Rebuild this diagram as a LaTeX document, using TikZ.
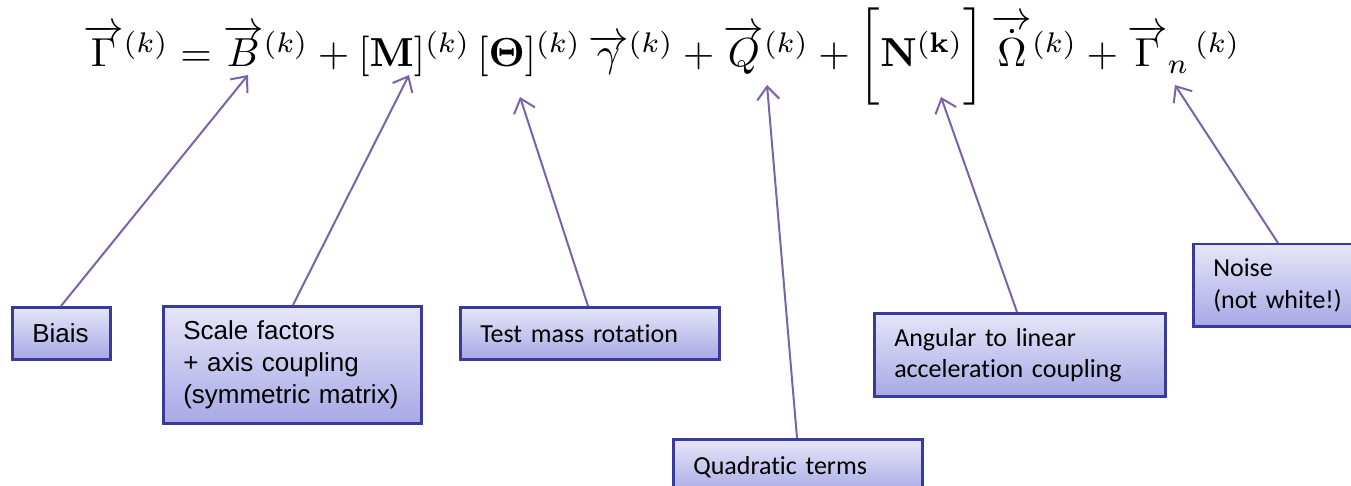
\documentclass[tikz,border=0pt]{standalone}
\usepackage{amsmath}
\usepackage{graphicx}
\usepackage[no-math]{fontspec}
\newfontfamily\arialf{Liberation Sans}
\newfontfamily\calf[Ligatures=NoCommon]{Carlito}
\usetikzlibrary{arrows.meta}
\definecolor{boxedge}{HTML}{3A3A9C}
\definecolor{boxtop}{HTML}{E6E6F8}
\definecolor{boxbot}{HTML}{A8A8E6}
\definecolor{arrowc}{HTML}{7B62AA}
\tikzset{
  lbox/.style={draw=boxedge, line width=2.5pt, top color=boxtop, bottom color=boxbot,
    rectangle, inner xsep=20pt, inner ysep=0pt, align=left, anchor=north west},
  pointer/.style={draw=arrowc, line width=2pt, -{Straight Barb[length=13pt,width=22pt,line width=2pt]}},
}
\begin{document}
\begin{tikzpicture}[x=1pt,y=-1pt]
\useasboundingbox (0,0) rectangle (1351,486);
\clip (0,0) rectangle (1351,486);
\node[anchor=base west, inner sep=0pt] (eq) at (83,67) {\resizebox{1157pt}{!}{%
$\overrightarrow{\Gamma}^{(k)} = \overrightarrow{B}^{(k)} + [\mathbf{M}]^{(k)}\,[\mathbf{\Theta}]^{(k)}\,\overrightarrow{\gamma}^{(k)} + \overrightarrow{Q}^{(k)} + \bigg[\mathbf{N}^{(\mathbf{k})}\bigg]\,\overrightarrow{\dot{\Omega}}^{(k)} + \overrightarrow{\Gamma}_{n}{}^{\,(k)}$}};
\node[lbox, text width=58pt, minimum height=52pt, font=\arialf\fontsize{26}{32}\selectfont] (biais) at (11,306) {Biais};
\node[lbox, text width=218pt, minimum height=117pt, font=\arialf\fontsize{26}{32}\selectfont] (scale) at (162,305) {Scale factors\\+ axis coupling\\(symmetric matrix)};
\node[lbox, text width=219pt, minimum height=52pt, font=\calf\fontsize{26}{31}\selectfont] (test) at (459,306) {Test mass rotation};
\node[lbox, text width=209pt, minimum height=56pt, font=\calf\fontsize{26}{31}\selectfont] (quad) at (672,438) {Quadratic terms};
\node[lbox, text width=251pt, minimum height=83pt, font=\calf\fontsize{26}{31}\selectfont] (ang) at (873,312) {Angular to linear\\acceleration coupling};
\node[lbox, text width=150pt, minimum height=82pt, font=\calf\fontsize{26}{32}\selectfont] (noise) at (1192,243) {Noise\\(not white!)};
\coordinate (tB) at (248,75);
\coordinate (tM) at (409,75);
\coordinate (tT) at (520,97);
\coordinate (tQ) at (767,85);
\coordinate (tN) at (941,97);
\coordinate (tG) at (1175,85);
\draw[pointer] (61,306) -- (tB);
\draw[pointer] (293,305) -- (tM);
\draw[pointer] (588,306) -- (tT);
\draw[pointer] (797,438) -- (tQ);
\draw[pointer] (1017,312) -- (tN);
\draw[pointer] (1278,243) -- (tG);
\end{tikzpicture}
\end{document}
